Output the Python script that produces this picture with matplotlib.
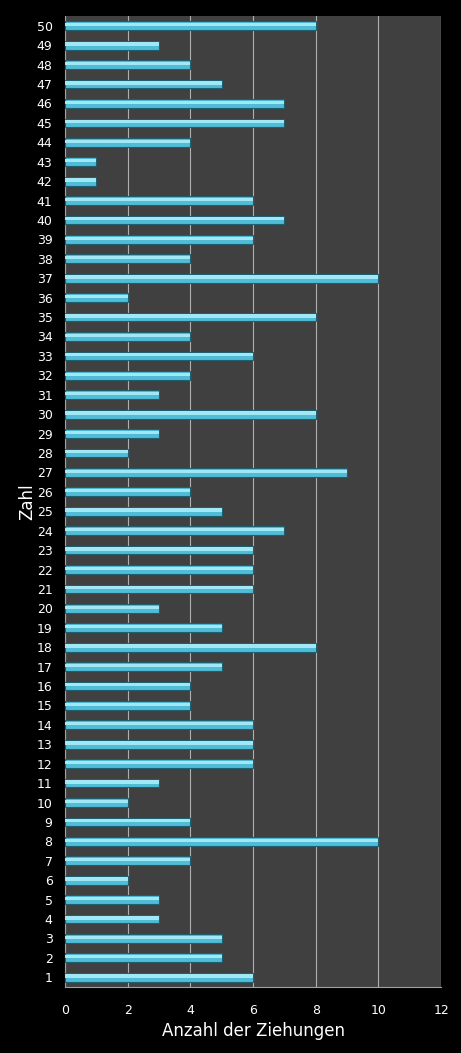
import matplotlib
matplotlib.use("Agg")
import matplotlib.pyplot as plt

numbers = list(range(1, 51))
counts = [6, 5, 5, 3, 3, 2, 4, 10, 4, 2,
          3, 6, 6, 6, 4, 4, 5, 8, 5, 3,
          6, 6, 6, 7, 5, 4, 9, 2, 3, 8,
          3, 4, 6, 4, 8, 2, 10, 4, 6, 7,
          6, 1, 1, 4, 7, 7, 5, 4, 3, 8]
x_ticks = [0, 2, 4, 6, 8, 10, 12]

fig = plt.figure(figsize=(4.61, 10.53), dpi=100, facecolor="black")
ax = fig.add_axes([0.141, 0.0627, 0.816, 0.922])
ax.set_facecolor("#404040")

ax.barh(numbers, counts, height=0.45, color="#50bcd6", edgecolor="#1f5f70", linewidth=0.8, zorder=3)
ax.barh([n + 0.06 for n in numbers], counts, height=0.17, color="#a0e8f6", linewidth=0, zorder=4)

ax.set_xlim(0, 12)
ax.set_ylim(0.5, 50.5)
ax.set_xticks(x_ticks)
ax.set_yticks(numbers)
ax.set_yticklabels([str(n) for n in numbers])
ax.tick_params(axis="both", colors="white", labelsize=9, length=0)
ax.tick_params(axis="x", pad=12)
ax.tick_params(axis="y", pad=9)
ax.xaxis.grid(True, color="#b0b0b0", linewidth=0.8, zorder=1)
ax.yaxis.grid(False)
for side, sp in ax.spines.items():
    sp.set_color("#a0a0a0")
    sp.set_linewidth(0.8)
ax.spines["top"].set_visible(False)
ax.spines["right"].set_visible(False)

ax.set_xlabel("Anzahl der Ziehungen", color="white", fontsize=12, labelpad=4)
ax.set_ylabel("Zahl", color="white", fontsize=12, labelpad=0)

fig.savefig("out.png", dpi=100, facecolor="black")
